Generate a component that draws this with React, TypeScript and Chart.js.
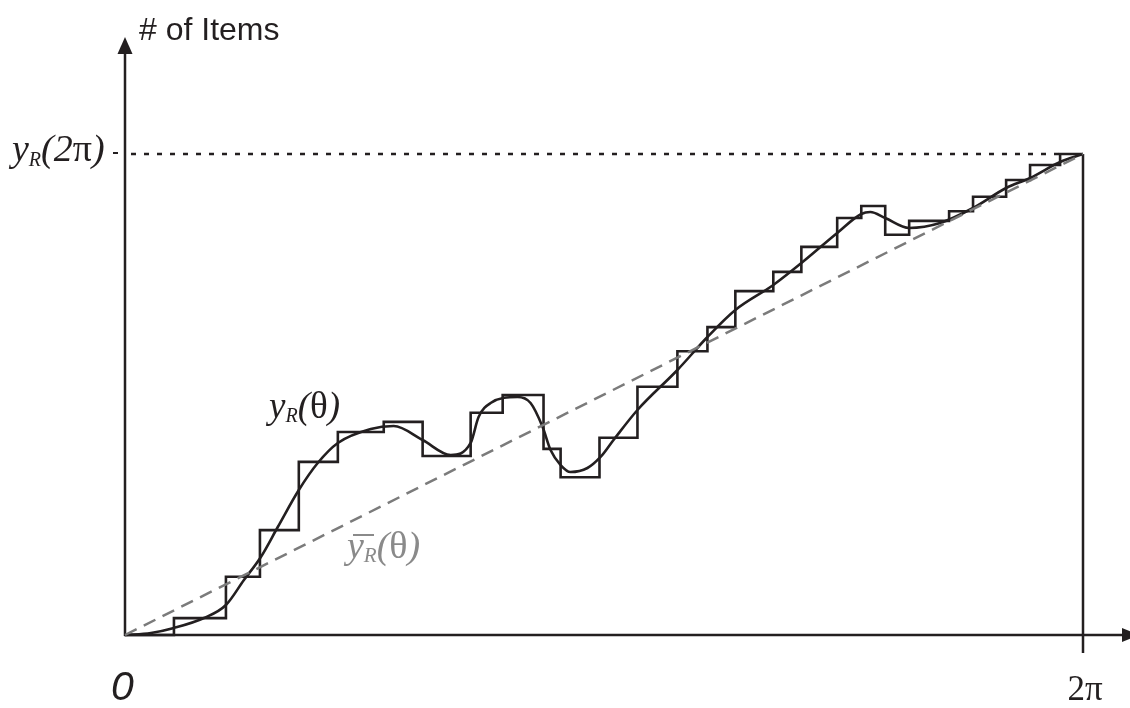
import React, { useEffect, useRef } from "react";
import { Chart, registerables } from "chart.js";

Chart.register(...registerables);

const TWO_PI = 2 * Math.PI;

// Step function y_R: x at start of each step (radians), item count of the step
const stepX = [0, 0.321, 0.662, 0.885, 1.14, 1.396, 1.697, 1.952, 2.267, 2.477, 2.745, 2.857, 3.112, 3.361, 3.623, 3.82, 4.003, 4.252, 4.436, 4.671, 4.829, 4.986, 5.143, 5.405, 5.562, 5.779, 5.936, 6.133, TWO_PI];
const stepY = [0, 3.5, 12.1, 21.8, 36.0, 42.2, 44.3, 37.2, 46.2, 49.9, 38.7, 32.8, 41.0, 51.6, 59.0, 64.0, 71.5, 75.5, 80.7, 86.7, 89.2, 83.2, 86.1, 88.1, 91.1, 94.6, 97.7, 100, 100];

// Smooth curve y_R(theta)
const smoothX = [0, 0.17, 0.321, 0.518, 0.662, 0.78, 0.891, 1.002, 1.14, 1.264, 1.396, 1.612, 1.762, 1.952, 2.136, 2.267, 2.319, 2.398, 2.575, 2.66, 2.739, 2.791, 2.857, 2.922, 3.033, 3.119, 3.204, 3.361, 3.623, 3.82, 4.003, 4.252, 4.436, 4.671, 4.829, 4.888, 4.986, 5.143, 5.346, 5.562, 5.779, 5.936, 6.133, TWO_PI];
const smoothY = [0, 0.42, 1.46, 3.53, 6.24, 11.43, 16.22, 22.45, 30.15, 35.76, 39.92, 42.83, 43.45, 40.54, 37.42, 39.92, 45.32, 48.23, 49.48, 48.23, 43.24, 38.46, 35.34, 33.89, 34.72, 37.01, 40.54, 46.78, 55.09, 61.95, 67.57, 72.77, 77.34, 83.58, 87.53, 87.94, 86.69, 84.62, 85.65, 88.77, 92.93, 95.01, 98.34, 100];

// Mean line (uniform)
const meanX = [0, TWO_PI];
const meanY = [0, 100];

const TOTAL = 100;

const INK = "#231f20";
const GRAY = "#7b7b7b";

const pts = (xs: number[], ys: number[]) => xs.map((x, i) => ({ x, y: ys[i] }));

function drawRuns(
  ctx: CanvasRenderingContext2D,
  runs: { t: string; font: string; dy?: number }[],
  x: number,
  y: number,
  color: string
) {
  ctx.fillStyle = color;
  ctx.textBaseline = "alphabetic";
  ctx.textAlign = "left";
  let cx = x;
  for (const r of runs) {
    ctx.font = r.font;
    ctx.fillText(r.t, cx, y + (r.dy || 0));
    cx += ctx.measureText(r.t).width;
  }
  return cx;
}

const decorPlugin = {
  id: "decor",
  beforeDatasetsDraw(chart: any) {
    const ctx: CanvasRenderingContext2D = chart.ctx;
    const xs = chart.scales.x;
    const ys = chart.scales.y;
    const ox = xs.getPixelForValue(0);
    const oy = ys.getPixelForValue(0);
    const rx = xs.getPixelForValue(TWO_PI);
    const ty = ys.getPixelForValue(TOTAL);
    ctx.save();
    ctx.strokeStyle = INK;
    ctx.fillStyle = INK;
    ctx.lineWidth = 2.5;
    ctx.setLineDash([]);
    // y axis
    ctx.beginPath();
    ctx.moveTo(ox, oy + 1);
    ctx.lineTo(ox, 50);
    ctx.stroke();
    ctx.beginPath();
    ctx.moveTo(ox, 37);
    ctx.lineTo(ox - 7.5, 54);
    ctx.lineTo(ox + 7.5, 54);
    ctx.closePath();
    ctx.fill();
    // x axis
    ctx.beginPath();
    ctx.moveTo(ox - 1, oy);
    ctx.lineTo(1125, oy);
    ctx.stroke();
    ctx.beginPath();
    ctx.moveTo(1139, oy);
    ctx.lineTo(1122, oy - 7);
    ctx.lineTo(1122, oy + 7);
    ctx.closePath();
    ctx.fill();
    // right vertical line at 2pi
    ctx.beginPath();
    ctx.moveTo(rx, ty);
    ctx.lineTo(rx, oy + 18);
    ctx.stroke();
    // small tick left of y-axis
    ctx.lineWidth = 2;
    ctx.beginPath();
    ctx.moveTo(ox - 12, ty - 1);
    ctx.lineTo(ox - 7, ty - 1);
    ctx.stroke();
    // dotted line at y_R(2pi)
    ctx.lineWidth = 2.5;
    ctx.setLineDash([5, 8]);
    ctx.beginPath();
    ctx.moveTo(ox + 6, ty);
    ctx.lineTo(xs.getPixelForValue(6.13), ty);
    ctx.stroke();
    ctx.restore();
  },
  afterDraw(chart: any) {
    const ctx: CanvasRenderingContext2D = chart.ctx;
    ctx.save();
    // # of Items
    drawRuns(ctx, [{ t: "# of Items", font: '32px "Liberation Sans"' }], 139, 40, INK);
    // y_R(2pi)
    drawRuns(
      ctx,
      [
        { t: "y", font: 'italic 38px "Liberation Serif"' },
        { t: "R", font: 'italic 20px "Liberation Serif"', dy: 5 },
        { t: "(2", font: 'italic 38px "Liberation Serif"' },
        { t: "π", font: '38px "Liberation Serif"' },
        { t: ")", font: 'italic 38px "Liberation Serif"' },
      ],
      12,
      161,
      INK
    );
    // y_R(theta)
    drawRuns(
      ctx,
      [
        { t: "y", font: 'italic 37px "Liberation Serif"' },
        { t: "R", font: 'italic 20px "Liberation Serif"', dy: 4 },
        { t: "(", font: 'italic 37px "Liberation Serif"' },
        { t: "θ", font: '37px "Liberation Serif"' },
        { t: ")", font: 'italic 37px "Liberation Serif"' },
      ],
      269,
      418,
      INK
    );
    // mean label
    const gx = 347;
    drawRuns(
      ctx,
      [
        { t: "y", font: 'italic 38px "Liberation Serif"' },
        { t: "R", font: 'italic 21px "Liberation Serif"', dy: 4 },
        { t: "(", font: 'italic 38px "Liberation Serif"' },
        { t: "θ", font: '38px "Liberation Serif"' },
        { t: ")", font: 'italic 38px "Liberation Serif"' },
      ],
      gx,
      558,
      "#8a8a8a"
    );
    ctx.strokeStyle = "#8a8a8a";
    ctx.lineWidth = 2;
    ctx.setLineDash([]);
    ctx.beginPath();
    ctx.moveTo(gx + 6, 535);
    ctx.lineTo(gx + 27, 535);
    ctx.stroke();
    // axis end labels
    drawRuns(ctx, [{ t: "0", font: 'italic 41px "Liberation Sans"' }], 111, 700, INK);
    ctx.font = '35px "Liberation Serif"';
    const w = ctx.measureText("2π").width;
    drawRuns(
      ctx,
      [
        { t: "2", font: '35px "Liberation Serif"' },
        { t: "π", font: '35px "Liberation Serif"' },
      ],
      1085 - w / 2,
      700,
      INK
    );
    ctx.restore();
  },
};

export default function App() {
  const ref = useRef<HTMLCanvasElement | null>(null);
  useEffect(() => {
    if (!ref.current) return;
    const chart = new Chart(ref.current, {
      type: "line",
      data: {
        datasets: [
          {
            label: "mean",
            data: pts(meanX, meanY),
            borderColor: GRAY,
            borderWidth: 2.5,
            borderDash: [13, 8],
            pointRadius: 0,
            tension: 0,
            clip: false,
          } as any,
          {
            label: "steps",
            data: pts(stepX, stepY),
            borderColor: INK,
            borderWidth: 2.6,
            pointRadius: 0,
            stepped: "before",
            clip: false,
          } as any,
          {
            label: "yR",
            data: pts(smoothX, smoothY),
            borderColor: INK,
            borderWidth: 2.6,
            pointRadius: 0,
            tension: 0.4,
            cubicInterpolationMode: "monotone",
            clip: false,
          } as any,
        ],
      },
      options: {
        animation: false,
        responsive: false,
        maintainAspectRatio: false,
        devicePixelRatio: 1,
        layout: { padding: { left: 125, right: 47, top: 154, bottom: 73 } },
        plugins: { legend: { display: false }, tooltip: { enabled: false }, title: { display: false } },
        scales: {
          x: { type: "linear", min: 0, max: TWO_PI, display: false },
          y: { type: "linear", min: 0, max: TOTAL, display: false },
        },
      },
      plugins: [decorPlugin],
    });
    return () => chart.destroy();
  }, []);
  return (
    <div style={{ position: "absolute", left: 0, top: 0, width: 1130, height: 708, background: "#fff" }}>
      <canvas ref={ref} width={1130} height={708} style={{ width: 1130, height: 708 }} />
    </div>
  );
}
